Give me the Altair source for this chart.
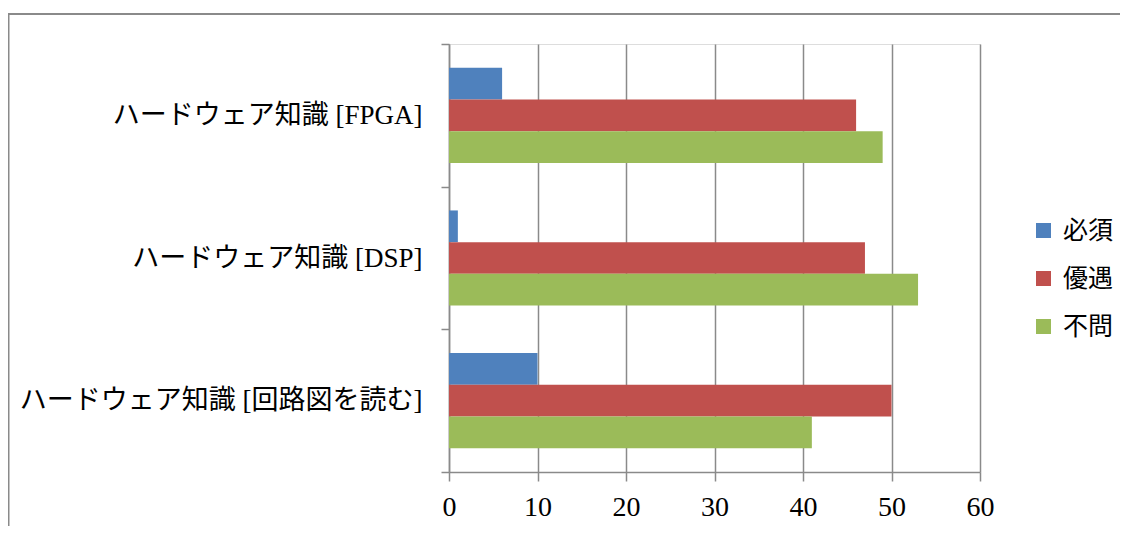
import altair as alt
import pandas as pd

categories = ["ハードウェア知識 [FPGA]", "ハードウェア知識 [DSP]", "ハードウェア知識 [回路図を読む]"]
series = ["必須", "優遇", "不問"]
hissu = [6, 1, 10]
yuuguu = [46, 47, 50]
fumon = [49, 53, 41]
colors = ["#4F81BD", "#C0504D", "#9BBB59"]
x_ticks = [0, 10, 20, 30, 40, 50, 60]

rows = []
for s, vals in zip(series, [hissu, yuuguu, fumon]):
    for c, v in zip(categories, vals):
        rows.append({"cat": c, "series": s, "value": v})
df = pd.DataFrame(rows)

FONT = "Liberation Serif, Noto Sans CJK JP"
GRAY = "#8a8a8a"

bars = alt.Chart(df).mark_bar().encode(
    y=alt.Y(
        "cat:N",
        sort=categories,
        scale=alt.Scale(paddingInner=0, paddingOuter=0),
        axis=alt.Axis(
            title=None,
            tickBand="extent",
            tickSize=8,
            tickColor=GRAY,
            tickWidth=1.5,
            domainColor=GRAY,
            domainWidth=1.5,
            labelFont=FONT,
            labelFontSize=27,
            labelColor="black",
            labelPadding=19,
            labelLimit=600,
            grid=False,
        ),
    ),
    x=alt.X(
        "value:Q",
        scale=alt.Scale(domain=[0, 60], nice=False),
        axis=alt.Axis(
            title=None,
            values=x_ticks,
            grid=True,
            gridColor=GRAY,
            gridWidth=1.5,
            tickSize=9,
            tickColor=GRAY,
            tickWidth=1.5,
            domainColor=GRAY,
            domainWidth=1.5,
            labelFont=FONT,
            labelFontSize=28,
            labelColor="black",
            labelPadding=12,
            labelFlush=False,
        ),
    ),
    yOffset=alt.YOffset("series:N", sort=series, scale=alt.Scale(paddingOuter=0.75, paddingInner=0)),
    color=alt.Color(
        "series:N",
        sort=series,
        scale=alt.Scale(domain=series, range=colors),
        legend=alt.Legend(
            title=None,
            orient="none",
            legendX=582,
            legendY=174,
            symbolType="square",
            symbolSize=225,
            symbolStrokeWidth=0,
            labelFont="Noto Sans CJK JP",
            labelFontSize=25,
            labelColor="black",
            labelOffset=7,
            rowPadding=22,
            padding=0,
        ),
    ),
)

frame_df = pd.DataFrame({"k": [0]})
top_line = alt.Chart(frame_df).mark_rule(color=GRAY, strokeWidth=2).encode(
    x=alt.value(-441), x2=alt.value(700), y=alt.value(-30)
)
left_line = alt.Chart(frame_df).mark_rule(color=GRAY, strokeWidth=2).encode(
    x=alt.value(-440.5), y=alt.value(-30), y2=alt.value(500)
)

chart = alt.layer(bars, top_line, left_line).properties(
    width=531,
    height=428,
    autosize=alt.AutoSizeParams(type="none"),
    padding={"left": 441, "top": 36, "right": 140, "bottom": 54},
).configure_view(stroke=None).configure(background="white")

chart.save("out.html", embed_options={"renderer": "svg", "actions": False})
